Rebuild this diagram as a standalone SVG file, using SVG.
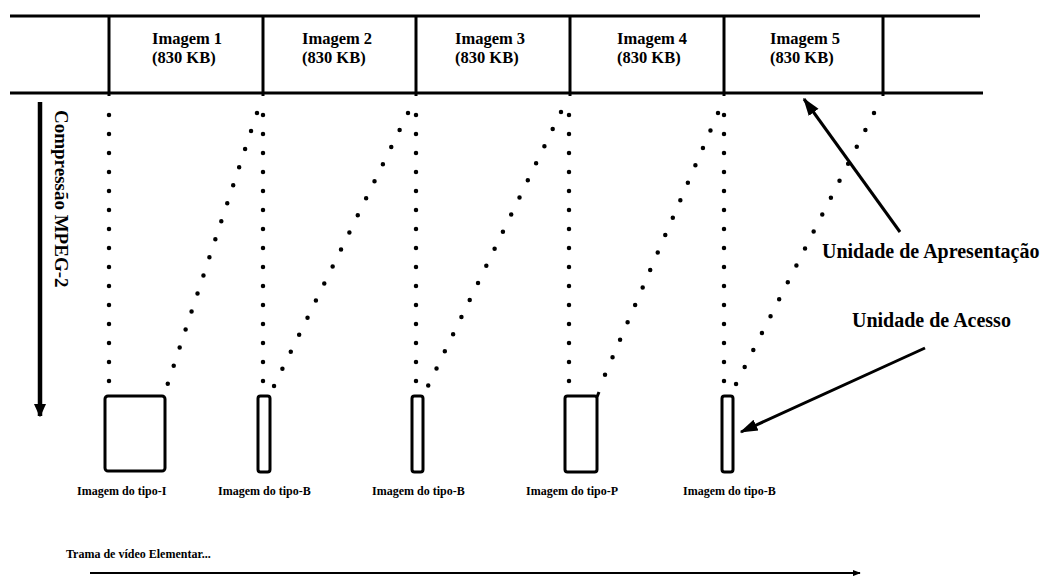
<svg xmlns="http://www.w3.org/2000/svg" width="1045" height="576" viewBox="0 0 1045 576">
<style>
.t{font-family:"Liberation Serif","Times New Roman",serif;font-weight:bold;fill:#000}
.top{font-size:16.5px}
.lbl{font-size:12px}
.big{font-size:20px}
.band{stroke:#000;stroke-width:3;fill:none}
.dot{stroke:#000;stroke-width:4.5;stroke-linecap:round;stroke-dasharray:0 19;fill:none}
.box{stroke:#000;stroke-width:3;fill:#fff}
.arr{stroke:#000;stroke-width:3;fill:none}
</style>
<defs>
<marker id="ah" viewBox="0 0 12 10" refX="11" refY="5" markerWidth="6" markerHeight="5" orient="auto" markerUnits="strokeWidth">
<path d="M0,1 L12,5 L0,9 Z" fill="#000"/>
</marker>
<marker id="ahl" viewBox="0 0 10 10" refX="9" refY="5" markerWidth="3" markerHeight="3" orient="auto" markerUnits="strokeWidth">
<path d="M0,0.5 L10,5 L0,9.5 Z" fill="#000"/>
</marker>
<marker id="ahs" viewBox="0 0 10 10" refX="9" refY="5" markerWidth="4" markerHeight="4" orient="auto" markerUnits="strokeWidth">
<path d="M0,1 L10,5 L0,9 Z" fill="#000"/>
</marker>
</defs>
<g id="band">
<line class="band" x1="10" y1="16" x2="980" y2="16"/>
<line class="band" x1="10" y1="93" x2="983" y2="93"/>
<line class="band" x1="109" y1="16" x2="109" y2="96"/>
<line class="band" x1="263" y1="16" x2="263" y2="96"/>
<line class="band" x1="416" y1="16" x2="416" y2="96"/>
<line class="band" x1="570" y1="16" x2="570" y2="96"/>
<line class="band" x1="724" y1="16" x2="724" y2="96"/>
<line class="band" x1="883" y1="16" x2="883" y2="96"/>
</g>
<g id="img1"><text class="t top" x="152" y="44">Imagem 1</text><text class="t top" x="152" y="63">(830 KB)</text></g>
<g id="img2"><text class="t top" x="302" y="44">Imagem 2</text><text class="t top" x="302" y="63">(830 KB)</text></g>
<g id="img3"><text class="t top" x="455" y="44">Imagem 3</text><text class="t top" x="455" y="63">(830 KB)</text></g>
<g id="img4"><text class="t top" x="617" y="44">Imagem 4</text><text class="t top" x="617" y="63">(830 KB)</text></g>
<g id="img5"><text class="t top" x="770" y="44">Imagem 5</text><text class="t top" x="770" y="63">(830 KB)</text></g>
<g id="connectors">
<line class="dot" x1="109" y1="115" x2="109" y2="382"/>
<line class="dot" x1="263" y1="115" x2="263" y2="382"/>
<line class="dot" x1="416" y1="115" x2="416" y2="382"/>
<line class="dot" x1="569" y1="115" x2="569" y2="382"/>
<line class="dot" x1="724" y1="115" x2="724" y2="382"/>
<line class="dot" x1="257" y1="113" x2="167" y2="386"/>
<line class="dot" x1="408" y1="113" x2="273" y2="388"/>
<line class="dot" x1="561" y1="112" x2="427" y2="388"/>
<line class="dot" x1="718" y1="113" x2="604" y2="377"/>
<line class="dot" x1="874" y1="113" x2="735" y2="386"/>
<line class="arr" style="stroke-width:4.5" x1="40" y1="102" x2="40" y2="416" marker-end="url(#ahl)"/>
<line class="arr" x1="900" y1="232" x2="804" y2="99" marker-end="url(#ah)"/>
<line class="arr" x1="925" y1="348" x2="741" y2="432" marker-end="url(#ah)"/>
<line class="arr" style="stroke-width:2" x1="90" y1="573" x2="860" y2="573" marker-end="url(#ahs)"/>
</g>
<g id="frameI"><rect class="box" x="105" y="396" width="60" height="75" rx="3"/><text class="t lbl" x="77" y="495">Imagem do tipo-I</text></g>
<g id="frameB1"><rect class="box" x="258" y="396" width="12" height="76" rx="2.5"/><text class="t lbl" x="218" y="495">Imagem do tipo-B</text></g>
<g id="frameB2"><rect class="box" x="412" y="396" width="11" height="76" rx="2.5"/><text class="t lbl" x="372" y="495">Imagem do tipo-B</text></g>
<g id="frameP"><rect class="box" x="565" y="396" width="32" height="76" rx="2.5"/><line class="arr" x1="597" y1="397" x2="599" y2="392"/><text class="t lbl" x="526" y="495">Imagem do tipo-P</text></g>
<g id="frameB3"><rect class="box" x="722" y="396" width="11" height="76" rx="2.5"/><text class="t lbl" x="683" y="495">Imagem do tipo-B</text></g>
<g id="labels">
<text class="t" style="font-size:19px" transform="translate(55,110) rotate(90)">Compressão MPEG-2</text>
<text class="t big" x="822" y="258">Unidade de Apresentação</text>
<text class="t big" x="852" y="327">Unidade de Acesso</text>
<text class="t" style="font-size:12px" x="66" y="558">Trama de vídeo Elementar...</text>
</g>
</svg>
